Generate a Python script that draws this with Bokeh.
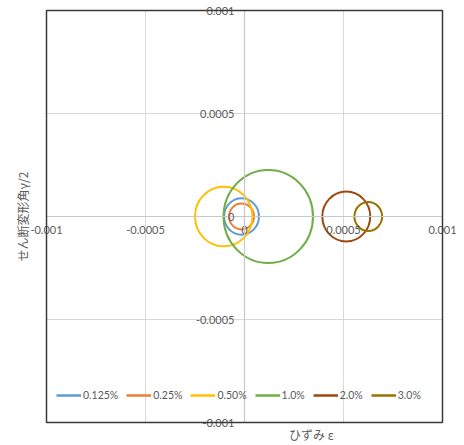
from bokeh.plotting import figure
from bokeh.models import (Range1d, FixedTicker, Legend, LegendItem, Label, BoxAnnotation)
from bokeh.embed import file_html
from bokeh.resources import INLINE
import math

# --- data ---
series = ["0.125%", "0.25%", "0.50%", "1.0%", "2.0%", "3.0%"]
centers = [-0.000015, -0.000015, -0.000105, 0.00012, 0.000514, 0.000625]
radii = [0.000088, 0.000063, 0.000145, 0.000226, 0.000121, 0.00007]
colors = ["#5B9BD5", "#ED7D31", "#FFC000", "#70AD47", "#9E480E", "#997300"]

x_ticks = [-0.001, -0.0005, 0, 0.0005, 0.001]
x_tick_labels = ["-0.001", "-0.0005", "0", "0.0005", "0.001"]
y_ticks = [0.001, 0.0005, 0, -0.0005, -0.001]
y_tick_labels = ["0.001", "0.0005", "0", "-0.0005", "-0.001"]

x_title = "ひずみ ε"
y_title = "せん断変形角γ/2"

TXT = "#595959"
NUMFONT = "Lato"
JPFONT = "Noto Sans CJK JP"

x_lo, x_hi = min(x_ticks), max(x_ticks)
y_lo, y_hi = min(y_ticks), max(y_ticks)

# plot box: 46..442 px horizontally, 10..422 px vertically within a 464x445 canvas
W, H = 464, 445
L, R, T, B = 46, 22, 10, 23
xs = (x_hi - x_lo) / (W - L - R)
ys = (y_hi - y_lo) / (H - T - B)

p = figure(width=W, height=H, output_backend="svg", toolbar_location=None,
           x_range=Range1d(x_lo - L * xs, x_hi + R * xs),
           y_range=Range1d(y_lo - B * ys, y_hi + T * ys),
           min_border=0)
p.outline_line_color = None
p.xgrid.visible = False
p.ygrid.visible = False
p.background_fill_color = "white"
p.border_fill_color = "white"

# gridlines inside the plot box
p.segment(x0=x_ticks, x1=x_ticks, y0=[y_lo] * len(x_ticks), y1=[y_hi] * len(x_ticks),
          line_color="#d9d9d9", line_width=1)
p.segment(x0=[x_lo] * len(y_ticks), x1=[x_hi] * len(y_ticks), y0=y_ticks, y1=y_ticks,
          line_color="#d9d9d9", line_width=1)

for ax, ticks, labels in ((p.xaxis[0], x_ticks, x_tick_labels), (p.yaxis[0], y_ticks, y_tick_labels)):
    ax.fixed_location = 0
    ax.ticker = FixedTicker(ticks=ticks)
    ax.major_label_overrides = {t: l for t, l in zip(ticks, labels)}
    ax.axis_line_color = "#c8c8c8"
    ax.axis_line_width = 1.2
    ax.major_tick_in = 0
    ax.major_tick_out = 0
    ax.minor_tick_in = 0
    ax.minor_tick_out = 0
    ax.major_label_text_font = NUMFONT
    ax.major_label_text_font_size = "11px"
    ax.major_label_text_color = TXT
p.xaxis.bounds = (x_lo, x_hi)
p.yaxis.bounds = (y_lo, y_hi)
p.xaxis.major_label_standoff = 9
p.yaxis.major_label_standoff = 10

p.add_layout(BoxAnnotation(left=x_lo, right=x_hi, bottom=y_lo, top=y_hi,
                           fill_color=None, fill_alpha=0,
                           line_color="#3a3a3a", line_width=1.5, line_alpha=1))

items = []
for name, cx, r, c in zip(series, centers, radii, colors):
    p.ellipse(x=[cx], y=[0], width=[2 * r], height=[2 * r],
              fill_color=None, line_color=c, line_width=2)
    lr = p.line(x=[cx], y=[0], line_color=c, line_width=2.5)
    items.append(LegendItem(label=name, renderers=[lr]))

legend = Legend(items=items, orientation="horizontal", location=(52, 39),
                padding=4, spacing=8, glyph_width=25, glyph_height=14,
                label_standoff=2, label_height=14,
                label_text_font=NUMFONT, label_text_font_size="10.5px",
                label_text_color=TXT, background_fill_alpha=0, border_line_alpha=0)
p.add_layout(legend, "center")

p.add_layout(Label(x=0.000338, y=y_lo, y_offset=-12, text=x_title,
                   text_align="center", text_baseline="middle",
                   text_font=JPFONT, text_font_size="12px", text_color=TXT))
p.add_layout(Label(x=x_lo, y=0, x_offset=-24, text=y_title, angle=math.pi / 2,
                   text_align="center", text_baseline="middle",
                   text_font=JPFONT, text_font_size="12px", text_color=TXT))

open("out.html", "w").write(file_html(p, INLINE))
